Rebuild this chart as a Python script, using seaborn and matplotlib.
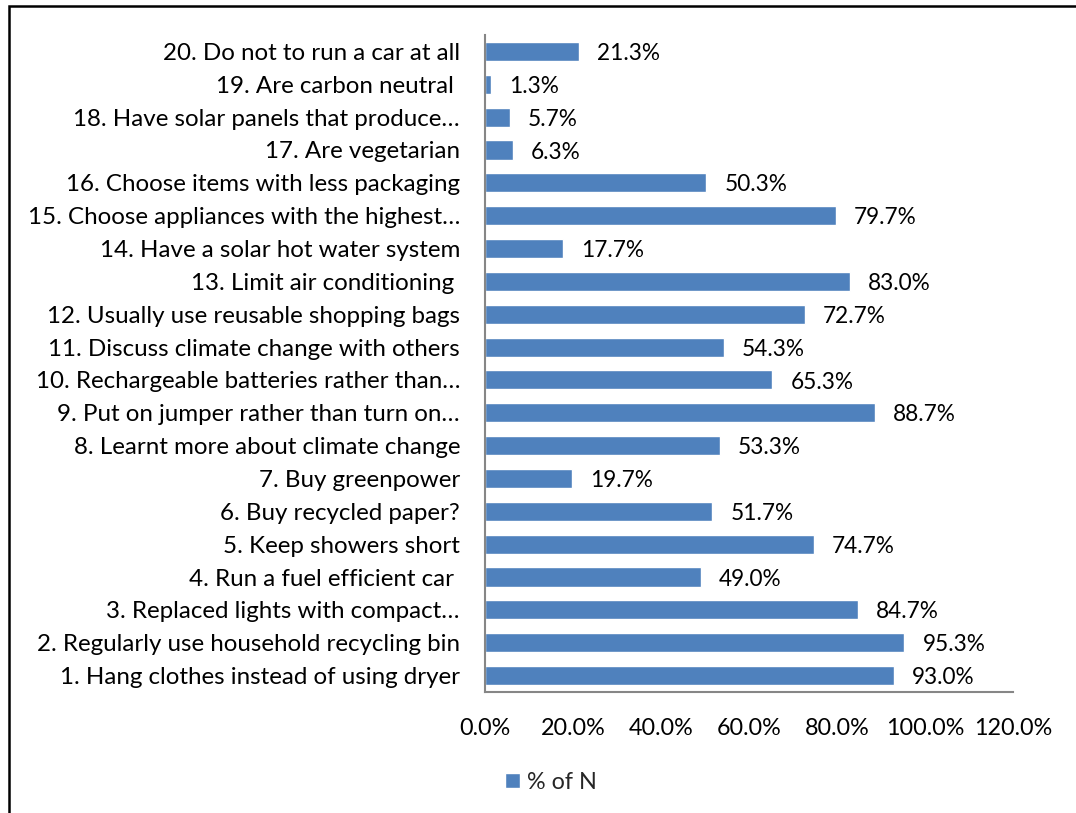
import matplotlib
matplotlib.use("Agg")
import matplotlib.pyplot as plt
import seaborn as sns
import pandas as pd
from matplotlib.patches import Rectangle

categories = [
    "20. Do not to run a car at all",
    "19. Are carbon neutral ",
    "18. Have solar panels that produce\u2026",
    "17. Are vegetarian",
    "16. Choose items with less packaging",
    "15. Choose appliances with the highest\u2026",
    "14. Have a solar hot water system",
    "13. Limit air conditioning ",
    "12. Usually use reusable shopping bags",
    "11. Discuss climate change with others",
    "10. Rechargeable batteries rather than\u2026",
    "9. Put on jumper rather than turn on\u2026",
    "8. Learnt more about climate change",
    "7. Buy greenpower",
    "6. Buy recycled paper?",
    "5. Keep showers short",
    "4. Run a fuel efficient car ",
    "3. Replaced lights with compact\u2026",
    "2. Regularly use household recycling bin",
    "1. Hang clothes instead of using dryer",
]
values = [21.3, 1.3, 5.7, 6.3, 50.3, 79.7, 17.7, 83.0, 72.7, 54.3,
          65.3, 88.7, 53.3, 19.7, 51.7, 74.7, 49.0, 84.7, 95.3, 93.0]
series_name = "% of N"
xticks = [0, 20, 40, 60, 80, 100, 120]

sns.set_style("white")
plt.rcParams["font.family"] = ["Lato", "DejaVu Sans"]

FS = 16.8

W, H = 1076, 813
fig = plt.figure(figsize=(W / 100, H / 100), dpi=100)
ax = fig.add_axes([485 / W, 1 - 692 / H, (1013 - 485) / W, (692 - 35) / H])

df = pd.DataFrame({"item": categories, "pct": values, "series": series_name})
sns.barplot(data=df, x="pct", y="item", hue="series", order=categories,
            palette=["#4F81BD"], width=0.58, orient="h", ax=ax,
            saturation=1, legend=True)

ax.set_xlim(0, 120)
ax.set_ylim(len(categories) - 0.5, -0.5)
ax.set_xticks(xticks)
ax.set_xticklabels([f"{t:.1f}%" for t in xticks], fontsize=FS, color="black")
ax.tick_params(axis="x", length=0, pad=19)
ax.tick_params(axis="y", length=0, pad=18, labelsize=17.4, labelcolor="black")
ax.set_xlabel("")
ax.set_ylabel("")
for s in ["top", "right"]:
    ax.spines[s].set_visible(False)
for s in ["left", "bottom"]:
    ax.spines[s].set_color("#868686")
    ax.spines[s].set_linewidth(1.5)

for i, v in enumerate(values):
    ax.annotate(f"{v:.1f}%", xy=(v, i), xytext=(13, -1.5),
                textcoords="offset points", ha="left", va="center",
                fontsize=16.3, color="black")

leg = ax.legend(loc="center", bbox_to_anchor=((551 / W), 1 - 782 / H),
                bbox_transform=fig.transFigure, frameon=False,
                fontsize=FS, handlelength=0.65, handleheight=0.65,
                handletextpad=0.3)

fig.patches.append(Rectangle((9 / W, -0.1), 1.2, 1 - 6 / H + 0.1,
                             transform=fig.transFigure, fill=False,
                             edgecolor="black", linewidth=1.8))

fig.savefig("out.png", dpi=100)
